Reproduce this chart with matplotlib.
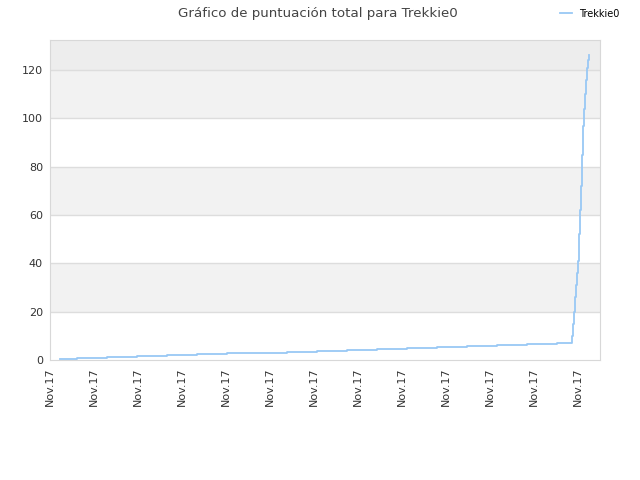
import matplotlib
matplotlib.use("Agg")
import matplotlib.pyplot as plt

# time axis in arbitrary units (all labels read "Nov.17")
step_x = [1.0, 2.67, 5.67, 8.67, 11.67, 14.67, 17.67, 20.67, 23.67, 26.67,
          29.67, 32.67, 35.67, 38.67, 41.67, 44.67, 47.67, 50.67,
          52.2, 52.3, 52.4, 52.5, 52.6, 52.7, 52.8, 52.9, 53.0,
          53.1, 53.2, 53.3, 53.4, 53.5, 53.6, 53.7, 53.8, 53.9]
score = [0.3, 0.7, 1.1, 1.5, 1.9, 2.3, 2.7, 3.1, 3.5, 3.9,
         4.3, 4.7, 5.1, 5.5, 5.9, 6.3, 6.7, 7.1,
         10, 15, 20, 26, 31, 36, 41, 52, 62,
         72, 85, 97, 104, 110, 116, 121, 124, 126]
tick_pos = [0, 4.4, 8.8, 13.2, 17.6, 22.0, 26.4, 30.8, 35.2, 39.6, 44.0, 48.4, 52.8]
tick_labels = ["Nov.17"] * len(tick_pos)
player = "Trekkie0"

fig = plt.figure(figsize=(6.4, 4.8), dpi=100)
ax = fig.add_axes([0.078, 0.25, 0.8595, 0.6667])

ax.set_xlim(0, 55)
ax.set_ylim(0, 132.4)

# alternating background bands
for lo, hi in [(20, 40), (60, 80), (100, 120)]:
    ax.axhspan(lo, hi, color="#f2f2f2", zorder=0, lw=0)
ax.axhspan(120, 132.4, color="#ededed", zorder=0, lw=0)
for yv in [20, 40, 60, 80, 100, 120]:
    ax.axhline(yv, color="#dddddd", lw=1, zorder=1)

line, = ax.plot(step_x, score, drawstyle="steps-post", color="#99c8f5",
                lw=1.3, zorder=3, label=player)

ax.set_yticks([0, 20, 40, 60, 80, 100, 120])
ax.set_xticks(tick_pos)
ax.set_xticklabels(tick_labels, rotation=90)
ax.tick_params(axis="both", length=0, labelsize=8, labelcolor="#333333", pad=5)
for sp in ax.spines.values():
    sp.set_color("#d8d8d8")

fig.suptitle("Gráfico de puntuación total para " + player, x=0.497, y=0.985,
             fontsize=9.6, color="#444444")
fig.legend(handles=[line], loc="upper right", bbox_to_anchor=(0.982, 1.0),
           frameon=False, fontsize=7, handlelength=1.2, handletextpad=0.8)

fig.savefig("out.png")
